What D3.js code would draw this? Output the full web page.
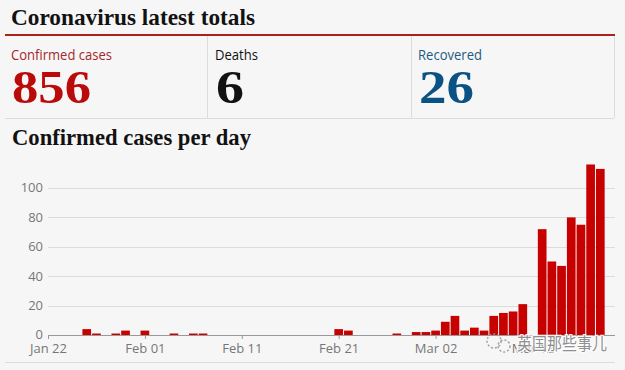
<!DOCTYPE html>
<html>
<head>
<meta charset="utf-8">
<script src="https://cdn.jsdelivr.net/npm/d3@7"></script>
<style>
  body { margin: 0; background: #f6f6f6; }
  svg { display: block; }
</style>
</head>
<body>
<div id="chart"></div>
<script>
// headline totals
const totalLabels = ["Confirmed cases", "Deaths", "Recovered"];
const totalValues = [856, 6, 26];
const labelColors = ["#a3282a", "#121212", "#1f5a82"];
const totalColors = ["#bb0a0a", "#121212", "#0a5283"];

// daily confirmed cases (days not listed had none)
const caseDates = ["2020-01-26", "2020-01-27", "2020-01-29", "2020-01-30", "2020-02-01",
  "2020-02-04", "2020-02-06", "2020-02-07", "2020-02-21", "2020-02-22",
  "2020-02-27", "2020-02-29", "2020-03-01", "2020-03-02", "2020-03-03",
  "2020-03-04", "2020-03-05", "2020-03-06", "2020-03-07", "2020-03-08",
  "2020-03-09", "2020-03-10", "2020-03-11", "2020-03-13", "2020-03-14",
  "2020-03-15", "2020-03-16", "2020-03-17", "2020-03-18", "2020-03-19"];
const caseCounts = [4, 1, 1, 3, 3,
  1, 1, 1, 4, 3,
  1, 2, 2, 3, 9,
  13, 3, 5, 3, 13,
  15, 16, 21, 72, 50,
  47, 80, 75, 116, 113];

const yTicks = [0, 20, 40, 60, 80, 100];
const xTickDates = ["2020-01-22", "2020-02-01", "2020-02-11", "2020-02-21", "2020-03-02", "2020-03-12"];
const xDomain = ["2020-01-22", "2020-03-20"];

const W = 625, H = 370;
const parse = d3.utcParse("%Y-%m-%d");
const serif = "'Liberation Serif', 'DejaVu Serif', serif";
const sans = "'Open Sans', 'Noto Sans', sans-serif";

const svg = d3.select("#chart").append("svg")
    .attr("width", W)
    .attr("height", H);

svg.append("rect").attr("width", W).attr("height", H).attr("fill", "#f6f6f6");

// title
svg.append("text")
    .attr("x", 11).attr("y", 25)
    .attr("font-family", serif).attr("font-weight", "bold").attr("font-size", 23)
    .attr("textLength", 244).attr("lengthAdjust", "spacingAndGlyphs")
    .attr("fill", "#121212")
    .text("Coronavirus latest totals");

svg.append("line")
    .attr("x1", 5).attr("x2", 615).attr("y1", 35).attr("y2", 35)
    .attr("stroke", "#a8231c").attr("stroke-width", 2);

// totals panels
const panelX = [11, 215, 418];
const labelW = [101, 43, 64];
const numW = [79, 28, 55];

svg.append("line").attr("x1", 5).attr("x2", 614).attr("y1", 118.5).attr("y2", 118.5)
    .attr("stroke", "#dcdcdc");
[207.5, 411.5, 614.5].forEach(x => {
    svg.append("line").attr("x1", x).attr("x2", x).attr("y1", 36).attr("y2", 118)
        .attr("stroke", "#dcdcdc");
});

totalLabels.forEach((lab, i) => {
    svg.append("text")
        .attr("x", panelX[i]).attr("y", 60)
        .attr("font-family", sans).attr("font-size", 14)
        .attr("textLength", labelW[i]).attr("lengthAdjust", "spacingAndGlyphs")
        .attr("fill", labelColors[i])
        .text(lab);
    svg.append("text")
        .attr("x", panelX[i] + 1).attr("y", 103)
        .attr("font-family", serif).attr("font-weight", "bold").attr("font-size", 47)
        .attr("textLength", numW[i]).attr("lengthAdjust", "spacingAndGlyphs")
        .attr("fill", totalColors[i])
        .text(totalValues[i]);
});

// subtitle
svg.append("text")
    .attr("x", 12).attr("y", 145)
    .attr("font-family", serif).attr("font-weight", "bold").attr("font-size", 23)
    .attr("textLength", 239).attr("lengthAdjust", "spacingAndGlyphs")
    .attr("fill", "#121212")
    .text("Confirmed cases per day");

// chart
const x = d3.scaleUtc()
    .domain(xDomain.map(parse))
    .range([48, 610]);
const y = d3.scaleLinear()
    .domain([0, 100])
    .range([335, 188]);

const dayW = x(parse("2020-01-23")) - x(parse("2020-01-22"));

const grid = svg.append("g");
grid.selectAll("line")
    .data(yTicks.filter(d => d > 0))
    .enter().append("line")
    .attr("x1", 48).attr("x2", 615)
    .attr("y1", d => Math.round(y(d)) + 0.5).attr("y2", d => Math.round(y(d)) + 0.5)
    .attr("stroke", "#dcdcdc");

const yAxis = d3.axisLeft(y).tickValues(yTicks).tickSize(0).tickPadding(0);
const gy = svg.append("g").attr("transform", "translate(43,0)").call(yAxis);
gy.select(".domain").remove();
gy.selectAll("text")
    .attr("font-family", sans).attr("font-size", 13).attr("fill", "#767676")
    .attr("dy", "0.3em");

// bars
svg.append("g").selectAll("rect")
    .data(caseDates.map((d, i) => ({ date: parse(d), value: caseCounts[i] })))
    .enter().append("rect")
    .attr("x", d => x(d.date) - dayW / 2 + 0.5)
    .attr("width", dayW - 1)
    .attr("y", d => y(d.value))
    .attr("height", d => y(0) - y(d.value))
    .attr("fill", "#c70000");

const xAxis = d3.axisBottom(x)
    .tickValues(xTickDates.map(parse))
    .tickFormat(d3.utcFormat("%b %d"))
    .tickSize(4).tickPadding(5);
const gx = svg.append("g").attr("transform", "translate(0,335)").call(xAxis);
gx.select(".domain").attr("d", "M48,0.5H615").attr("stroke", "#999");
gx.selectAll(".tick line").attr("stroke", "#999");
gx.selectAll("text")
    .attr("font-family", sans).attr("font-size", 13).attr("fill", "#767676");

svg.append("line").attr("x1", 5).attr("x2", 615).attr("y1", 362.5).attr("y2", 362.5)
    .attr("stroke", "#dcdcdc");

// watermark
const wm = svg.append("g").attr("opacity", 0.9);
wm.append("circle").attr("cx", 494).attr("cy", 341).attr("r", 7)
    .attr("fill", "none").attr("stroke", "#9a9a9a").attr("stroke-width", 1.5)
    .attr("stroke-dasharray", "2,2");
wm.append("circle").attr("cx", 504).attr("cy", 346).attr("r", 6)
    .attr("fill", "none").attr("stroke", "#9a9a9a").attr("stroke-width", 1.5)
    .attr("stroke-dasharray", "2,2");
wm.append("text")
    .attr("x", 517).attr("y", 350)
    .attr("font-family", "'Noto Sans CJK SC', sans-serif").attr("font-size", 17)
    .attr("textLength", 90).attr("lengthAdjust", "spacingAndGlyphs")
    .attr("fill", "#858585").attr("stroke", "#ffffff").attr("stroke-width", 2.5)
    .attr("paint-order", "stroke")
    .text("英国那些事儿");
</script>
</body>
</html>
